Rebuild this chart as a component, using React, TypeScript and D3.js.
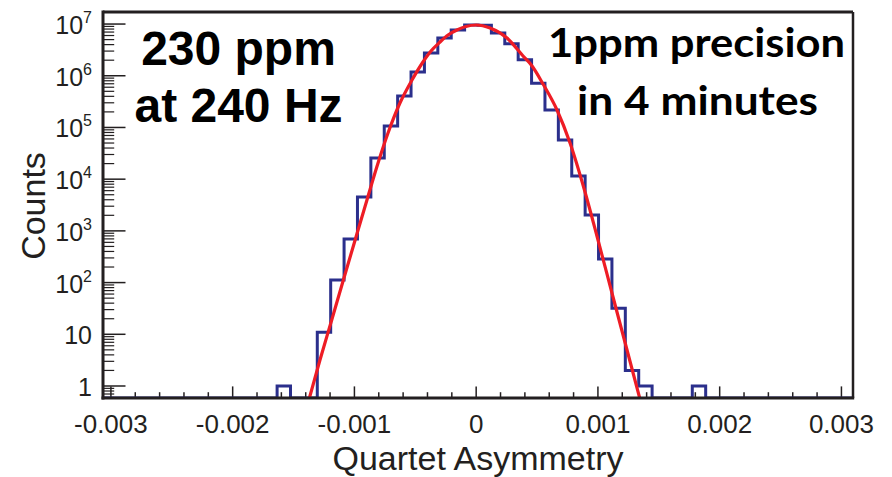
import React from "react";
import * as d3 from "d3";

// Histogram bin edges (57) and counts (56)
const binEdges = [
  -0.003065, -0.002955, -0.002845, -0.002735, -0.002625, -0.002515, -0.002405, -0.002295,
  -0.002185, -0.002075, -0.001965, -0.001855, -0.001745, -0.001635, -0.001525, -0.001415,
  -0.001305, -0.001195, -0.001085, -0.000975, -0.000865, -0.000755, -0.000645, -0.000535,
  -0.000425, -0.000315, -0.000205, -0.000095, 0.000015, 0.000125, 0.000235, 0.000345,
  0.000455, 0.000565, 0.000675, 0.000785, 0.000895, 0.001005, 0.001115, 0.001225,
  0.001335, 0.001445, 0.001555, 0.001665, 0.001775, 0.001885, 0.001995, 0.002105,
  0.002215, 0.002325, 0.002435, 0.002545, 0.002655, 0.002765, 0.002875, 0.002985, 0.003095,
];
const binCounts = [
  0, 0, 0, 0, 0, 0, 0, 0, 0, 0, 0, 0, 0, 1, 0, 0,
  11, 112, 700, 4500, 25700, 107000, 407000, 1180000,
  2760000, 5400000, 7700000, 9600000, 9500000, 6700000, 4150000, 2030000,
  720000, 218000, 57000, 11500, 2030, 286, 32, 2,
  1, 0, 0, 0, 1, 0, 0, 0, 0, 0, 0, 0, 0, 0, 0, 0,
];

// Fit curve points
const fitX = [
  -0.001373, -0.001283, -0.001184, -0.001086, -0.000987, -0.000897, -0.000806, -0.000724,
  -0.000626, -0.000527, -0.000437, -0.000371, -0.000297, -0.000231, -0.000158, -0.000084,
  0.0, 0.000114, 0.000253, 0.000385, 0.000459, 0.000549, 0.000664, 0.000771,
  0.000894, 0.000992, 0.001124, 0.001239, 0.001346,
];
const fitY = [
  0.55, 3.18, 19.8, 123, 761, 3956, 20550, 78170,
  297300, 827800, 1846000, 3012000, 4497000, 6142000, 7674000, 8970000,
  9588000, 8389000, 5373000, 2411000, 1544000, 692800, 217600, 50070,
  5648, 796, 52.6, 4.97, 0.55,
];

const xMajorTicks = [-0.003, -0.002, -0.001, 0, 0.001, 0.002, 0.003];
const xMajorLabels = ["-0.003", "-0.002", "-0.001", "0", "0.001", "0.002", "0.003"];
const yMajorTicks = [1, 10, 1e2, 1e3, 1e4, 1e5, 1e6, 1e7];
const yMajorBase = ["1", "10", "10", "10", "10", "10", "10", "10"];
const yMajorExp = ["", "", "2", "3", "4", "5", "6", "7"];

const leftNote = ["230 ppm", "at 240 Hz"];
const rightNote = ["1ppm precision", "in 4 minutes"];
const xTitle = "Quartet Asymmetry";
const yTitle = "Counts";

const W = 892;
const H = 477;
const L = 103, R = 853, T = 12, B = 398;

export default function App() {
  const x = d3.scaleLinear().domain([-0.003065, 0.003095]).range([L, R]);
  const y = d3.scaleLog().domain([0.586, 1.71e7]).range([B, T]);
  const yb = (c: number) => (c > 0 ? y(c) : B);

  // minor ticks
  const xMinor: number[] = [];
  for (let i = -15; i <= 15; i++) {
    if (i % 5 !== 0) xMinor.push(i * 0.0002);
  }
  const yMinor: number[] = [];
  for (let e = -1; e <= 7; e++) {
    for (let k = 2; k <= 9; k++) {
      const v = k * Math.pow(10, e);
      if (v >= 0.586 && v <= 1.71e7) yMinor.push(v);
    }
  }

  // histogram step path
  let hp = `M${x(binEdges[0])},${yb(binCounts[0])}`;
  for (let i = 0; i < binCounts.length; i++) {
    hp += `H${x(binEdges[i + 1])}`;
    if (i + 1 < binCounts.length) hp += `V${yb(binCounts[i + 1])}`;
  }

  const fitPts: [number, number][] = fitX.map((v, i) => [v, fitY[i]]);
  const fitLine = d3
    .line<[number, number]>()
    .x((d) => x(d[0]))
    .y((d) => y(d[1]))
    .curve(d3.curveMonotoneX)(fitPts) as string;

  const axisCol = "#231f20";
  const font = "'Liberation Sans', Arial, Helvetica, sans-serif";

  return (
    <svg
      width={W}
      height={H}
      viewBox={`0 0 ${W} ${H}`}
      style={{ position: "absolute", left: 0, top: 0, background: "#fff" }}
    >
      <defs>
        <clipPath id="frameClip">
          <rect x={L} y={T} width={R - L} height={B - T} />
        </clipPath>
      </defs>
      <rect x={0} y={0} width={W} height={H} fill="#fff" />

      {/* x ticks */}
      {xMajorTicks.map((v, i) => (
        <line key={"xM" + i} x1={x(v)} x2={x(v)} y1={B} y2={B - 11.6} stroke={axisCol} strokeWidth={1.5} />
      ))}
      {xMinor.map((v, i) => (
        <line key={"xm" + i} x1={x(v)} x2={x(v)} y1={B} y2={B - 5.8} stroke={axisCol} strokeWidth={1.5} />
      ))}
      {/* y ticks */}
      {yMajorTicks.map((v, i) => (
        <line key={"yM" + i} x1={L} x2={L + 22.5} y1={y(v)} y2={y(v)} stroke={axisCol} strokeWidth={1.5} />
      ))}
      {yMinor.map((v, i) => (
        <line key={"ym" + i} x1={L} x2={L + 11.2} y1={y(v)} y2={y(v)} stroke={axisCol} strokeWidth={1.2} />
      ))}

      {/* histogram and fit */}
      <g clipPath="url(#frameClip)">
        <path d={hp} fill="none" stroke="#2b2f8c" strokeWidth={3} strokeLinejoin="miter" />
        <path d={fitLine} fill="none" stroke="#ee1c25" strokeWidth={3.2} />
      </g>

      {/* frame */}
      <line x1={L} x2={R} y1={T} y2={T} stroke={axisCol} strokeWidth={3} />
      <line x1={R} x2={R} y1={T} y2={B} stroke={axisCol} strokeWidth={2.5} />
      <line x1={L} x2={L} y1={T - 1.5} y2={B + 1.5} stroke={axisCol} strokeWidth={3} />
      <line x1={L - 1.5} x2={R + 1.2} y1={B} y2={B} stroke={axisCol} strokeWidth={3} />

      {/* x labels */}
      {xMajorTicks.map((v, i) => (
        <text key={"xl" + i} x={x(v)} y={433} textAnchor="middle" fontFamily={font} fontSize={26} fill={axisCol}>
          {xMajorLabels[i]}
        </text>
      ))}
      {/* y labels */}
      {yMajorTicks.map((v, i) => (
        <text key={"yl" + i} x={92} y={y(v) + 10} textAnchor="end" fontFamily={font} fontSize={25} fill={axisCol}>
          {yMajorBase[i]}
          {yMajorExp[i] && (
            <tspan fontSize={16} dy={-11}>
              {yMajorExp[i]}
            </tspan>
          )}
        </text>
      ))}

      {/* axis titles */}
      <text x={478} y={470} textAnchor="middle" fontFamily={font} fontSize={34} fill={axisCol}>
        {xTitle}
      </text>
      <text
        transform={`translate(45,206) rotate(-90)`}
        textAnchor="middle"
        fontFamily={font}
        fontSize={34}
        fill={axisCol}
      >
        {yTitle}
      </text>

      {/* annotations */}
      <text x={238.5} y={65} textAnchor="middle" fontFamily={font} fontWeight="bold" fontSize={48} fill="#000">
        {leftNote[0]}
      </text>
      <text x={238.5} y={122} textAnchor="middle" fontFamily={font} fontWeight="bold" fontSize={48} fill="#000">
        {leftNote[1]}
      </text>
      <text
        x={696.5}
        y={57}
        textAnchor="middle"
        fontFamily="Lato, 'Open Sans', sans-serif"
        fontWeight="bold"
        fontSize={41}
        fill="#000"
        textLength={297}
        lengthAdjust="spacingAndGlyphs"
      >
        {rightNote[0]}
      </text>
      <text
        x={697.5}
        y={115}
        textAnchor="middle"
        fontFamily="Lato, 'Open Sans', sans-serif"
        fontWeight="bold"
        fontSize={41}
        fill="#000"
        textLength={241}
        lengthAdjust="spacingAndGlyphs"
      >
        {rightNote[1]}
      </text>
    </svg>
  );
}
